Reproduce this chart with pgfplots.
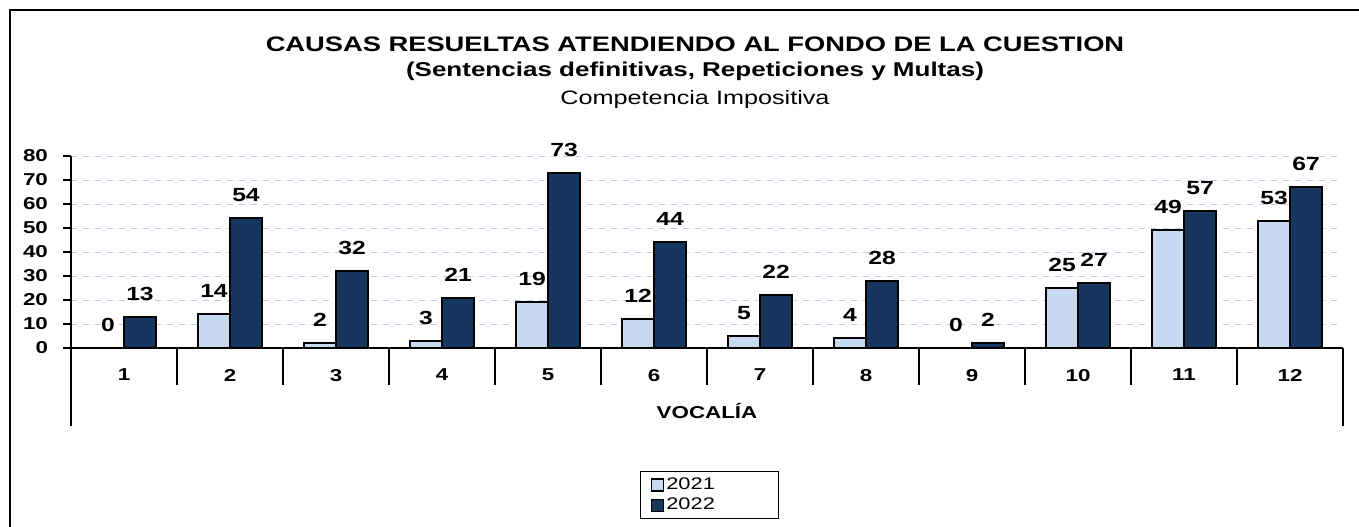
\documentclass[border=0pt]{standalone}
\usepackage{pgfplots}
\pgfplotsset{compat=1.18}
\usepackage{fontspec}
\setmainfont{Liberation Sans}[FakeStretch=1.3]
\definecolor{light}{RGB}{198,217,240}
\definecolor{dark}{RGB}{23,54,93}
\definecolor{gridc}{RGB}{185,205,235}
\begin{document}
\begin{tikzpicture}
\useasboundingbox (0,0) rectangle (679.5pt,263pt);
\draw[line width=1.2pt] (5pt,-10pt) -- (5pt,258pt) -- (700pt,258pt);
\node[font=\fontsize{10.5}{12}\selectfont\bfseries] at (347.5pt,241pt) {CAUSAS RESUELTAS ATENDIENDO AL FONDO DE LA CUESTION};
\node[font=\fontsize{10}{12}\selectfont\bfseries] at (347.5pt,227.5pt) {(Sentencias definitivas, Repeticiones y Multas)};
\node[font=\fontsize{9.7}{12}\selectfont] at (347.5pt,213.5pt) {Competencia Impositiva};
\begin{axis}[
  at={(35.5pt,89pt)}, anchor=south west,
  scale only axis, width=636pt, height=96pt,
  ybar=0pt, bar width=16pt,
  xmin=0.5, xmax=12.5, ymin=0, ymax=80,
  xtick={1,...,12}, major x tick style={draw=none},
  ytick={0,10,...,80},
  axis x line*=bottom, axis y line*=left,
  axis line style={black, line width=0.6pt, -},
  y tick style={black, line width=0.6pt}, tick align=outside, major tick length=4pt,
  ymajorgrids, grid style={gridc, dashed, line width=0.4pt},
  /pgf/number format/assume math mode=true,
  tick label style={font=\fontsize{8.6}{10}\selectfont\bfseries},
  yticklabel style={xshift=-4pt},
  xticklabel style={yshift=-3pt},
  xlabel={VOCAL\'IA},
  xlabel style={at={(axis description cs:0.5,-0.328)}, anchor=center, font=\fontsize{8.6}{10}\selectfont\bfseries},
  nodes near coords,
  every node near coord/.append style={anchor=center, yshift=11.5pt, font=\fontsize{9.5}{10}\selectfont\bfseries, black},
  legend style={at={(0.502,-0.766)}, anchor=center, draw=black, line width=0.6pt, font=\fontsize{8.4}{10}\selectfont, inner xsep=5pt, inner ysep=1pt, row sep=-1pt, legend cell align=left, nodes={text width=50pt, align=left, inner xsep=1pt}},
  legend image code/.code={\draw[#1, line width=0.8pt] (0pt,-3pt) rectangle (6pt,3pt);},
  clip=false,
]
\addplot[draw=black, line width=1pt, fill=light] coordinates {(1,0) (2,14) (3,2) (4,3) (5,19) (6,12) (7,5) (8,4) (9,0) (10,25) (11,49) (12,53)};
\addplot[draw=black, line width=1pt, fill=dark] coordinates {(1,13) (2,54) (3,32) (4,21) (5,73) (6,44) (7,22) (8,28) (9,2) (10,27) (11,57) (12,67)};
\legend{2021,2022}
\draw[black, line width=0.6pt] (axis cs:0.5,0) -- (axis cs:0.5,-32.5);
\draw[black, line width=0.6pt] (axis cs:12.5,0) -- (axis cs:12.5,-32.5);
\draw[black, line width=0.6pt] (axis cs:1.5,0) -- (axis cs:1.5,-15.4);
\draw[black, line width=0.6pt] (axis cs:2.5,0) -- (axis cs:2.5,-15.4);
\draw[black, line width=0.6pt] (axis cs:3.5,0) -- (axis cs:3.5,-15.4);
\draw[black, line width=0.6pt] (axis cs:4.5,0) -- (axis cs:4.5,-15.4);
\draw[black, line width=0.6pt] (axis cs:5.5,0) -- (axis cs:5.5,-15.4);
\draw[black, line width=0.6pt] (axis cs:6.5,0) -- (axis cs:6.5,-15.4);
\draw[black, line width=0.6pt] (axis cs:7.5,0) -- (axis cs:7.5,-15.4);
\draw[black, line width=0.6pt] (axis cs:8.5,0) -- (axis cs:8.5,-15.4);
\draw[black, line width=0.6pt] (axis cs:9.5,0) -- (axis cs:9.5,-15.4);
\draw[black, line width=0.6pt] (axis cs:10.5,0) -- (axis cs:10.5,-15.4);
\draw[black, line width=0.6pt] (axis cs:11.5,0) -- (axis cs:11.5,-15.4);
\end{axis}
\end{tikzpicture}
\end{document}
